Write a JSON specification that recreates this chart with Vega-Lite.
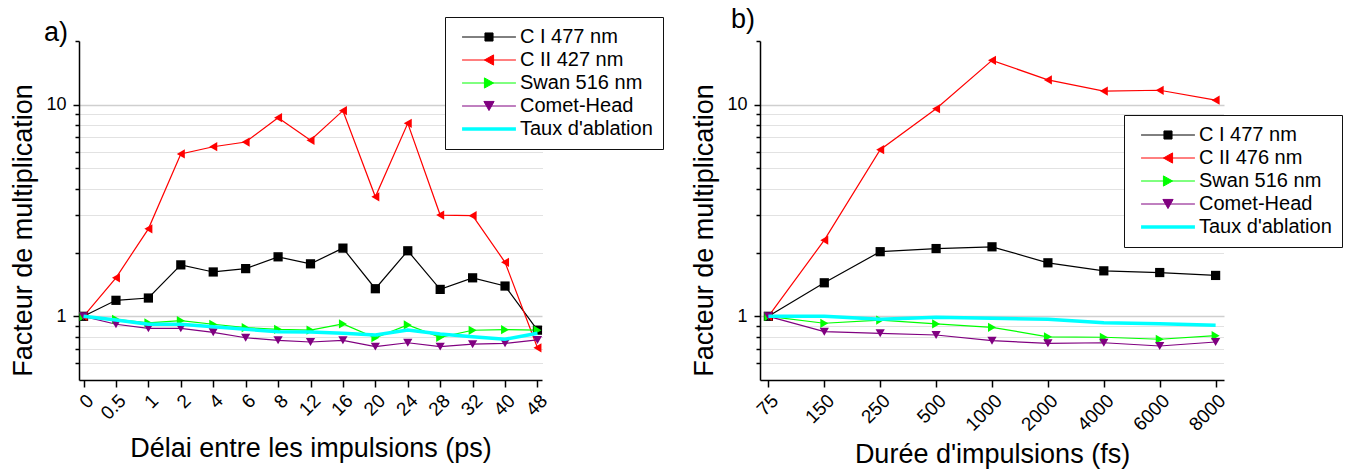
{
  "$schema": "https://vega.github.io/schema/vega-lite/v6.json",
  "padding": {"left": 9, "top": 6, "right": 5, "bottom": 5},
  "background": "white",
  "datasets": {
    "a": [
      {"x": "0", "s": "C I 477 nm", "v": 1.0}, {"x": "0.5", "s": "C I 477 nm", "v": 1.19}, {"x": "1", "s": "C I 477 nm", "v": 1.22}, {"x": "2", "s": "C I 477 nm", "v": 1.75}, {"x": "4", "s": "C I 477 nm", "v": 1.62}, {"x": "6", "s": "C I 477 nm", "v": 1.68}, {"x": "8", "s": "C I 477 nm", "v": 1.91}, {"x": "12", "s": "C I 477 nm", "v": 1.77}, {"x": "16", "s": "C I 477 nm", "v": 2.10}, {"x": "20", "s": "C I 477 nm", "v": 1.35}, {"x": "24", "s": "C I 477 nm", "v": 2.04}, {"x": "28", "s": "C I 477 nm", "v": 1.34}, {"x": "32", "s": "C I 477 nm", "v": 1.52}, {"x": "40", "s": "C I 477 nm", "v": 1.39}, {"x": "48", "s": "C I 477 nm", "v": 0.86},
      {"x": "0", "s": "C II 427 nm", "v": 1.0}, {"x": "0.5", "s": "C II 427 nm", "v": 1.52}, {"x": "1", "s": "C II 427 nm", "v": 2.59}, {"x": "2", "s": "C II 427 nm", "v": 5.85}, {"x": "4", "s": "C II 427 nm", "v": 6.33}, {"x": "6", "s": "C II 427 nm", "v": 6.66}, {"x": "8", "s": "C II 427 nm", "v": 8.68}, {"x": "12", "s": "C II 427 nm", "v": 6.79}, {"x": "16", "s": "C II 427 nm", "v": 9.37}, {"x": "20", "s": "C II 427 nm", "v": 3.67}, {"x": "24", "s": "C II 427 nm", "v": 8.17}, {"x": "28", "s": "C II 427 nm", "v": 3.01}, {"x": "32", "s": "C II 427 nm", "v": 2.99}, {"x": "40", "s": "C II 427 nm", "v": 1.80}, {"x": "48", "s": "C II 427 nm", "v": 0.71},
      {"x": "0", "s": "Swan 516 nm", "v": 1.0}, {"x": "0.5", "s": "Swan 516 nm", "v": 0.968}, {"x": "1", "s": "Swan 516 nm", "v": 0.93}, {"x": "2", "s": "Swan 516 nm", "v": 0.953}, {"x": "4", "s": "Swan 516 nm", "v": 0.917}, {"x": "6", "s": "Swan 516 nm", "v": 0.884}, {"x": "8", "s": "Swan 516 nm", "v": 0.868}, {"x": "12", "s": "Swan 516 nm", "v": 0.861}, {"x": "16", "s": "Swan 516 nm", "v": 0.92}, {"x": "20", "s": "Swan 516 nm", "v": 0.792}, {"x": "24", "s": "Swan 516 nm", "v": 0.91}, {"x": "28", "s": "Swan 516 nm", "v": 0.796}, {"x": "32", "s": "Swan 516 nm", "v": 0.859}, {"x": "40", "s": "Swan 516 nm", "v": 0.865}, {"x": "48", "s": "Swan 516 nm", "v": 0.86},
      {"x": "0", "s": "Comet-Head", "v": 1.0}, {"x": "0.5", "s": "Comet-Head", "v": 0.917}, {"x": "1", "s": "Comet-Head", "v": 0.877}, {"x": "2", "s": "Comet-Head", "v": 0.877}, {"x": "4", "s": "Comet-Head", "v": 0.84}, {"x": "6", "s": "Comet-Head", "v": 0.792}, {"x": "8", "s": "Comet-Head", "v": 0.77}, {"x": "12", "s": "Comet-Head", "v": 0.756}, {"x": "16", "s": "Comet-Head", "v": 0.77}, {"x": "20", "s": "Comet-Head", "v": 0.719}, {"x": "24", "s": "Comet-Head", "v": 0.75}, {"x": "28", "s": "Comet-Head", "v": 0.719}, {"x": "32", "s": "Comet-Head", "v": 0.738}, {"x": "40", "s": "Comet-Head", "v": 0.745}, {"x": "48", "s": "Comet-Head", "v": 0.773},
      {"x": "0", "s": "Taux d'ablation", "v": 1.0}, {"x": "0.5", "s": "Taux d'ablation", "v": 0.96}, {"x": "1", "s": "Taux d'ablation", "v": 0.917}, {"x": "2", "s": "Taux d'ablation", "v": 0.917}, {"x": "4", "s": "Taux d'ablation", "v": 0.893}, {"x": "6", "s": "Taux d'ablation", "v": 0.868}, {"x": "8", "s": "Taux d'ablation", "v": 0.846}, {"x": "12", "s": "Taux d'ablation", "v": 0.843}, {"x": "16", "s": "Taux d'ablation", "v": 0.831}, {"x": "20", "s": "Taux d'ablation", "v": 0.816}, {"x": "24", "s": "Taux d'ablation", "v": 0.861}, {"x": "28", "s": "Taux d'ablation", "v": 0.825}, {"x": "32", "s": "Taux d'ablation", "v": 0.80}, {"x": "40", "s": "Taux d'ablation", "v": 0.779}, {"x": "48", "s": "Taux d'ablation", "v": 0.831}
    ],
    "b": [
      {"x": "75", "s": "C I 477 nm", "v": 1.0}, {"x": "150", "s": "C I 477 nm", "v": 1.44}, {"x": "250", "s": "C I 477 nm", "v": 2.02}, {"x": "500", "s": "C I 477 nm", "v": 2.09}, {"x": "1000", "s": "C I 477 nm", "v": 2.13}, {"x": "2000", "s": "C I 477 nm", "v": 1.79}, {"x": "4000", "s": "C I 477 nm", "v": 1.64}, {"x": "6000", "s": "C I 477 nm", "v": 1.61}, {"x": "8000", "s": "C I 477 nm", "v": 1.56},
      {"x": "75", "s": "C II 476 nm", "v": 1.0}, {"x": "150", "s": "C II 476 nm", "v": 2.29}, {"x": "250", "s": "C II 476 nm", "v": 6.13}, {"x": "500", "s": "C II 476 nm", "v": 9.57}, {"x": "1000", "s": "C II 476 nm", "v": 16.2}, {"x": "2000", "s": "C II 476 nm", "v": 13.1}, {"x": "4000", "s": "C II 476 nm", "v": 11.6}, {"x": "6000", "s": "C II 476 nm", "v": 11.7}, {"x": "8000", "s": "C II 476 nm", "v": 10.5},
      {"x": "75", "s": "Swan 516 nm", "v": 1.0}, {"x": "150", "s": "Swan 516 nm", "v": 0.927}, {"x": "250", "s": "Swan 516 nm", "v": 0.96}, {"x": "500", "s": "Swan 516 nm", "v": 0.92}, {"x": "1000", "s": "Swan 516 nm", "v": 0.887}, {"x": "2000", "s": "Swan 516 nm", "v": 0.80}, {"x": "4000", "s": "Swan 516 nm", "v": 0.796}, {"x": "6000", "s": "Swan 516 nm", "v": 0.779}, {"x": "8000", "s": "Swan 516 nm", "v": 0.81},
      {"x": "75", "s": "Comet-Head", "v": 1.0}, {"x": "150", "s": "Comet-Head", "v": 0.846}, {"x": "250", "s": "Comet-Head", "v": 0.831}, {"x": "500", "s": "Comet-Head", "v": 0.816}, {"x": "1000", "s": "Comet-Head", "v": 0.767}, {"x": "2000", "s": "Comet-Head", "v": 0.745}, {"x": "4000", "s": "Comet-Head", "v": 0.75}, {"x": "6000", "s": "Comet-Head", "v": 0.724}, {"x": "8000", "s": "Comet-Head", "v": 0.756},
      {"x": "75", "s": "Taux d'ablation", "v": 1.0}, {"x": "150", "s": "Taux d'ablation", "v": 1.0}, {"x": "250", "s": "Taux d'ablation", "v": 0.968}, {"x": "500", "s": "Taux d'ablation", "v": 0.99}, {"x": "1000", "s": "Taux d'ablation", "v": 0.98}, {"x": "2000", "s": "Taux d'ablation", "v": 0.968}, {"x": "4000", "s": "Taux d'ablation", "v": 0.933}, {"x": "6000", "s": "Taux d'ablation", "v": 0.923}, {"x": "8000", "s": "Taux d'ablation", "v": 0.907}
    ]
  },
  "hconcat": [
    {
      "width": 463,
      "height": 339,
      "data": {"name": "a"},
      "title": {"text": "a)", "anchor": "start", "frame": "group", "fontSize": 27, "fontWeight": "normal", "baseline": "alphabetic", "offset": 0, "dx": -35, "dy": 51, "color": "black"},
      "encoding": {
        "x": {"field": "x", "type": "ordinal", "title": "Délai entre les impulsions (ps)",
          "scale": {"type": "point", "padding": 0.14, "domain": ["0","0.5","1","2","4","6","8","12","16","20","24","28","32","40","48"]},
          "axis": {"labelAngle": -45, "tickSize": 7, "labelPadding": 4, "labelFontSize": 19, "titleY": 76, "titleBaseline": "alphabetic", "grid": false}},
        "y": {"field": "v", "type": "quantitative", "title": "Facteur de multiplication",
          "scale": {"type": "log", "domain": [0.5, 20], "nice": false},
          "axis": {"values": [0.6,0.7,0.8,0.9,1,2,3,4,5,6,7,8,9,10,20],
            "labelExpr": "datum.value == 1 ? '1' : (datum.value == 10 ? '10' : '')",
            "titleX": -48, "titleY": 189, "titleBaseline": "alphabetic", "labelPadding": 7,
            "grid": true,
            "gridColor": {"condition": {"test": "datum.value == 1 || datum.value == 10", "value": "#cfcfcf"}, "value": "#b5b5b5"},
            "gridDash": {"condition": {"test": "datum.value == 1 || datum.value == 10", "value": []}, "value": [1, 1]},
            "gridWidth": {"condition": {"test": "datum.value == 1 || datum.value == 10", "value": 1.6}, "value": 0.8},
            "gridOpacity": {"condition": {"test": "datum.value == 20", "value": 0}, "value": 1},
            "tickSize": {"condition": {"test": "datum.value == 1 || datum.value == 10", "value": 6}, "value": 4}}},
        "color": {"field": "s", "type": "nominal",
          "scale": {"domain": ["C I 477 nm", "C II 427 nm", "Swan 516 nm", "Comet-Head", "Taux d'ablation"], "range": ["#000000", "#ff0000", "#00ff00", "#800080", "#00ffff"]},
          "legend": {"orient": "none", "legendX": 366, "legendY": -24, "title": null, "symbolSize": 2900, "labelFontSize": 20, "labelColor": "black", "padding": 10, "symbolOffset": 24, "labelOffset": 21, "rowPadding": 3, "strokeColor": "#111111", "fillColor": "white",
            "symbolType": {"expr": "['M-1,0H1M-0.15,-0.15H0.15V0.15H-0.15Z','M-1,0H1M-0.17,0L0.17,-0.19L0.17,0.19Z','M-1,0H1M0.17,0L-0.17,-0.19L-0.17,0.19Z','M-1,0H1M-0.19,-0.17H0.19L0,0.17Z','M-1,0H1'][datum.index]"},
            "symbolStrokeWidth": {"expr": "datum.index == 4 ? 3.5 : 1"},
            "symbolOpacity": 1}}
      },
      "layer": [
        {"transform": [{"filter": {"not": {"field": "s", "equal": "Taux d'ablation"}}}],
         "mark": {"type": "line", "strokeWidth": 1.2}},
        {"transform": [{"filter": {"not": {"field": "s", "equal": "Taux d'ablation"}}}],
         "mark": {"type": "point", "filled": true, "opacity": 1, "size": 85, "strokeWidth": 0},
         "encoding": {"shape": {"field": "s", "type": "nominal", "legend": null,
           "scale": {"domain": ["C I 477 nm", "C II 427 nm", "Swan 516 nm", "Comet-Head"], "range": ["square", "triangle-left", "triangle-right", "triangle-down"]}}}},
        {"transform": [{"filter": {"field": "s", "equal": "Taux d'ablation"}}],
         "mark": {"type": "line", "strokeWidth": 3.5}}
      ]
    },
    {
      "width": 464,
      "height": 339,
      "data": {"name": "b"},
      "title": {"text": "b)", "anchor": "start", "frame": "group", "fontSize": 27, "fontWeight": "normal", "baseline": "alphabetic", "offset": 0, "dx": -29, "dy": 15, "color": "black"},
      "encoding": {
        "x": {"field": "x", "type": "ordinal", "title": "Durée d'impulsions (fs)",
          "scale": {"type": "point", "padding": 0.15, "domain": ["75","150","250","500","1000","2000","4000","6000","8000"]},
          "axis": {"labelAngle": -45, "tickSize": 7, "labelPadding": 4, "labelFontSize": 19, "titleY": 82, "titleBaseline": "alphabetic", "grid": false}},
        "y": {"field": "v", "type": "quantitative", "title": "Facteur de multiplication",
          "scale": {"type": "log", "domain": [0.5, 20], "nice": false},
          "axis": {"values": [0.6,0.7,0.8,0.9,1,2,3,4,5,6,7,8,9,10,20],
            "labelExpr": "datum.value == 1 ? '1' : (datum.value == 10 ? '10' : '')",
            "titleX": -48, "titleY": 189, "titleBaseline": "alphabetic", "labelPadding": 7,
            "grid": true,
            "gridColor": {"condition": {"test": "datum.value == 1 || datum.value == 10", "value": "#cfcfcf"}, "value": "#b5b5b5"},
            "gridDash": {"condition": {"test": "datum.value == 1 || datum.value == 10", "value": []}, "value": [1, 1]},
            "gridWidth": {"condition": {"test": "datum.value == 1 || datum.value == 10", "value": 1.6}, "value": 0.8},
            "gridOpacity": {"condition": {"test": "datum.value == 20", "value": 0}, "value": 1},
            "tickSize": {"condition": {"test": "datum.value == 1 || datum.value == 10", "value": 6}, "value": 4}}},
        "color": {"field": "s", "type": "nominal",
          "scale": {"domain": ["C I 477 nm", "C II 476 nm", "Swan 516 nm", "Comet-Head", "Taux d'ablation"], "range": ["#000000", "#ff0000", "#00ff00", "#800080", "#00ffff"]},
          "legend": {"orient": "none", "legendX": 364, "legendY": 74, "title": null, "symbolSize": 2900, "labelFontSize": 20, "labelColor": "black", "padding": 10, "symbolOffset": 24, "labelOffset": 21, "rowPadding": 3, "strokeColor": "#111111", "fillColor": "white",
            "symbolType": {"expr": "['M-1,0H1M-0.15,-0.15H0.15V0.15H-0.15Z','M-1,0H1M-0.17,0L0.17,-0.19L0.17,0.19Z','M-1,0H1M0.17,0L-0.17,-0.19L-0.17,0.19Z','M-1,0H1M-0.19,-0.17H0.19L0,0.17Z','M-1,0H1'][datum.index]"},
            "symbolStrokeWidth": {"expr": "datum.index == 4 ? 3.5 : 1"},
            "symbolOpacity": 1}}
      },
      "layer": [
        {"transform": [{"filter": {"not": {"field": "s", "equal": "Taux d'ablation"}}}],
         "mark": {"type": "line", "strokeWidth": 1.2}},
        {"transform": [{"filter": {"not": {"field": "s", "equal": "Taux d'ablation"}}}],
         "mark": {"type": "point", "filled": true, "opacity": 1, "size": 85, "strokeWidth": 0},
         "encoding": {"shape": {"field": "s", "type": "nominal", "legend": null,
           "scale": {"domain": ["C I 477 nm", "C II 476 nm", "Swan 516 nm", "Comet-Head"], "range": ["square", "triangle-left", "triangle-right", "triangle-down"]}}}},
        {"transform": [{"filter": {"field": "s", "equal": "Taux d'ablation"}}],
         "mark": {"type": "line", "strokeWidth": 3.5}}
      ]
    }
  ],
  "spacing": 218,
  "bounds": "flush",
  "resolve": {"scale": {"color": "independent", "shape": "independent", "x": "independent", "y": "independent"}, "legend": {"color": "independent"}},
  "config": {
    "font": "Liberation Sans",
    "view": {"stroke": null},
    "axis": {"domainColor": "black", "domainWidth": 1.5, "tickColor": "black", "tickWidth": 1.5, "labelColor": "black", "labelFontSize": 18, "titleFontSize": 27, "titleFontWeight": "normal", "titleColor": "black"},
    "legend": {"labelFont": "Liberation Sans"}
  }
}
